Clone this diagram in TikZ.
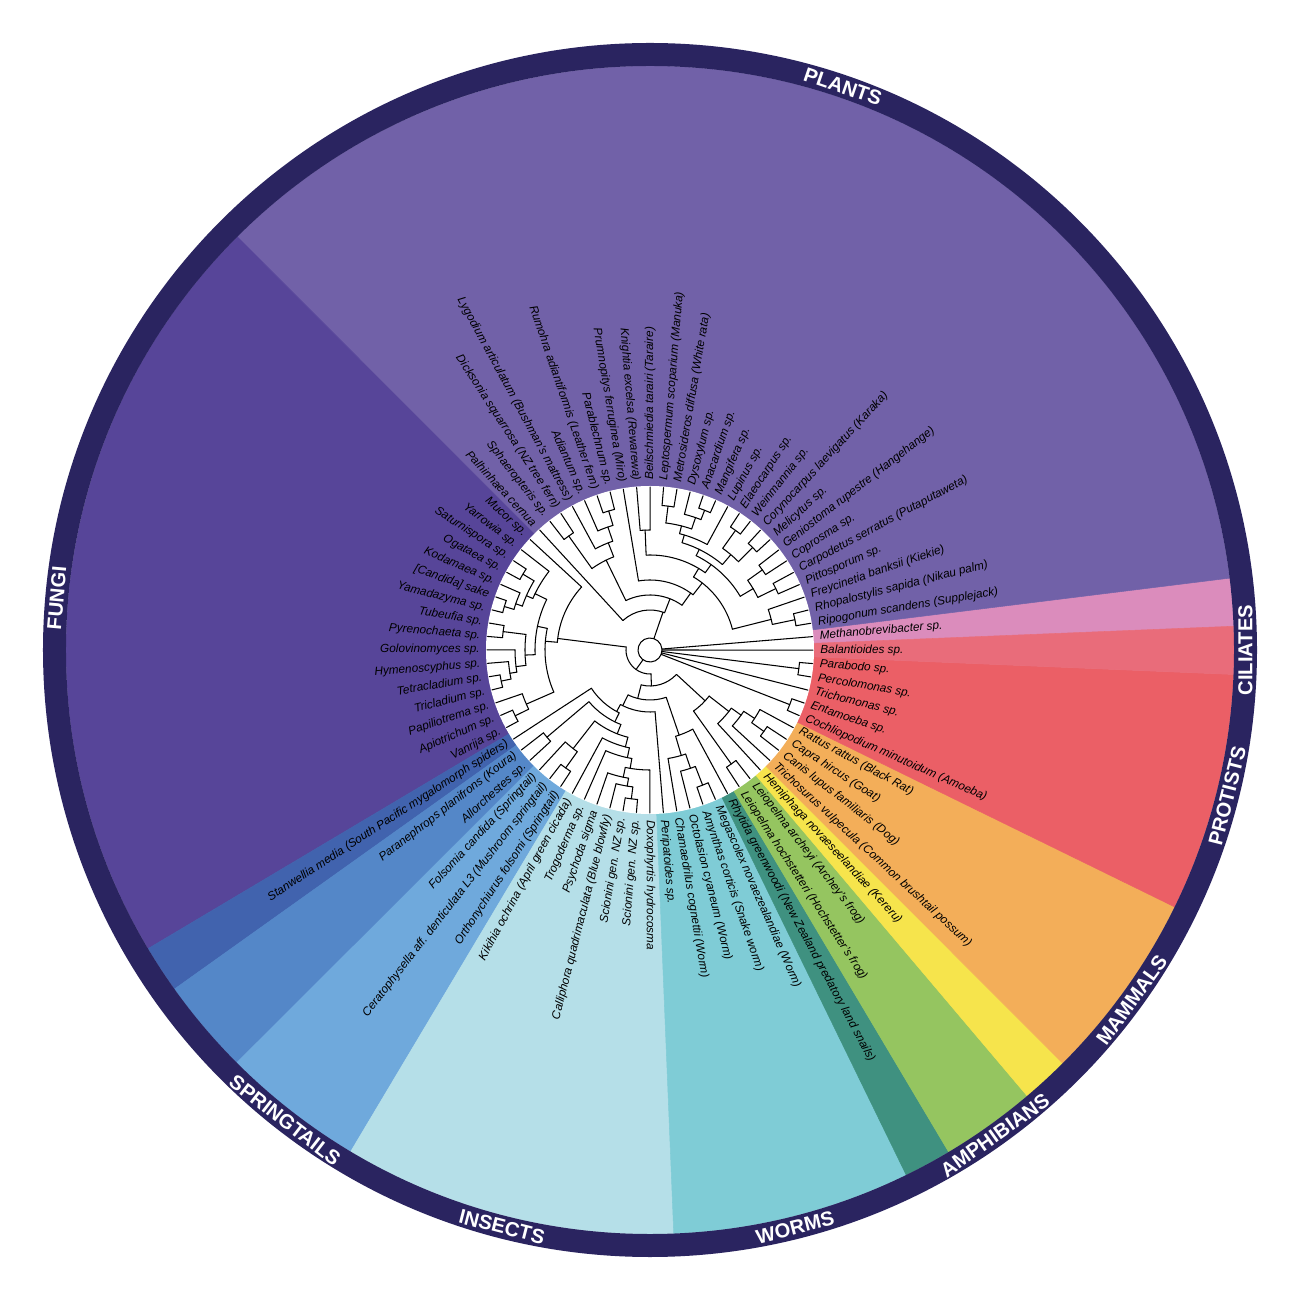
\documentclass[tikz,border=0pt]{standalone}
\usepackage{fontspec}
\setmainfont{Liberation Sans}
\definecolor{ringcol}{HTML}{2A2460}
\definecolor{plantcol}{HTML}{7161A8}
\definecolor{fungicol}{HTML}{574599}
\definecolor{archcol}{HTML}{DB8CBC}
\definecolor{ciliatecol}{HTML}{E96C7A}
\definecolor{protistcol}{HTML}{EB5F66}
\definecolor{mammalcol}{HTML}{F3AE59}
\definecolor{birdcol}{HTML}{F6E44C}
\definecolor{amphcol}{HTML}{95C560}
\definecolor{snailcol}{HTML}{3F9180}
\definecolor{wormcol}{HTML}{7FCCD6}
\definecolor{insectcol}{HTML}{B5DFE8}
\definecolor{springcol}{HTML}{6FA9DC}
\definecolor{crustcol}{HTML}{5487C8}
\definecolor{spidercol}{HTML}{4163AE}
\begin{document}
\begin{tikzpicture}[x=0.02cm, y=0.02cm,
    declare function={la(\i)=4.7+\i*4.736842;},
    branch/.style={line width=0.6pt, line cap=round},
    leaf/.style={inner sep=0pt, text=black, font=\fontsize{6.7}{7}\selectfont\itshape},
    group/.style={inner sep=0pt, text=white, font=\fontsize{11.5}{12}\selectfont\bfseries}]
  \useasboundingbox (-650,-650) rectangle (650,650);
  \fill[white] (-650,-650) rectangle (650,650);
  % wedges: first leaf / last leaf / colour
  \foreach \a/\b/\col in {0/0/archcol, 1/27/plantcol, 28/43/fungicol, 44/44/spidercol,
      45/46/crustcol, 47/49/springcol, 50/56/insectcol, 57/61/wormcol, 62/62/snailcol,
      63/64/amphcol, 65/65/birdcol, 66/69/mammalcol, 70/74/protistcol, 75/75/ciliatecol} {
    \pgfmathsetmacro\ta{la(\a-0.5)}
    \pgfmathsetmacro\tb{la(\b+0.5)}
    \fill[\col, draw=\col, line width=0.3pt] (0,0) -- (\ta:584) arc[start angle=\ta, end angle=\tb, radius=584*0.02cm] -- cycle;
  }
  \draw[ringcol, line width=0.46cm] (0,0) circle[radius=595.5*0.02cm];
  \fill[white] (0,0) circle[radius=164*0.02cm];
  % root
  \pgfmathsetmacro\ta{la(0)}
  \pgfmathsetmacro\tb{la(75)}
  \draw[branch] (\ta:12) arc[start angle=\ta, end angle=\tb, radius=12*0.02cm];
  \foreach \n in {0,72,75} \draw[branch] ({la(\n)}:12) -- ({la(\n)}:163);
  % clades: first / split / last / radius / parent radius
  \foreach \a/\s/\b/\r/\rp in {
      1/26/27/40/12, 1/20/26/55/40, 21/24/26/100/55, 21/23/24/115/100, 21/22/23/130/115,
      21/21/22/145/130, 25/25/26/140/100, 1/19/20/70/55, 1/3/19/85/70, 1/2/3/125/85,
      1/1/2/148/125, 4/17/19/95/85, 18/18/19/120/95, 4/7/17/105/95, 4/5/7/120/105,
      4/4/5/140/120, 6/6/7/138/120, 8/11/17/112/105, 8/9/11/125/112, 8/8/9/145/125,
      10/10/11/147/125, 12/12/17/120/112, 13/15/17/128/120, 13/14/15/140/128,
      13/13/14/150/140, 16/16/17/145/128,
      28/43/69/24/12, 28/28/43/93/24, 29/40/43/105/93, 41/41/43/135/105, 42/42/43/150/135,
      29/34/40/115/105, 29/29/34/128/115, 30/31/34/135/128, 30/30/31/148/135,
      32/32/34/142/135, 33/33/34/152/142, 35/36/40/125/115, 35/35/36/148/125,
      37/37/40/135/125, 38/38/40/142/135, 39/39/40/152/142,
      44/62/69/36/24, 44/57/62/50/36, 44/56/57/62/50, 44/44/56/70/62, 45/46/56/80/70,
      45/45/46/135/80, 47/49/56/90/80, 47/47/49/125/90, 48/48/49/145/125,
      50/50/56/100/90, 51/51/56/110/100, 52/55/56/120/110, 52/52/55/130/120,
      53/53/55/138/130, 54/54/55/150/138, 58/61/62/90/50, 58/58/61/110/90,
      59/59/61/125/110, 60/60/61/145/125, 63/64/69/75/36, 63/63/64/140/75,
      65/65/69/100/75, 66/66/69/112/100, 67/68/69/125/112, 67/67/68/140/125,
      70/70/71/150/12, 73/73/74/150/12} {
    \pgfmathsetmacro\ca{la((\a+\s)/2)}
    \pgfmathsetmacro\cb{la((\s+1+\b)/2)}
    \pgfmathsetmacro\cn{la((\a+\b)/2)}
    \draw[branch] (\ca:\r) arc[start angle=\ca, end angle=\cb, radius=\r*0.02cm];
    \draw[branch] (\cn:\rp) -- (\cn:\r);
    \ifnum\a=\s \draw[branch] (\ca:\r) -- (\ca:163); \fi
    \ifnum\numexpr\s+1\relax=\b \draw[branch] (\cb:\r) -- (\cb:163); \fi
  }
  % leaf labels
  \foreach \i/\name in {
      0/{Methanobrevibacter sp.}, 1/{Ripogonum scandens (Supplejack)},
      2/{Rhopalostylis sapida (Nikau palm)}, 3/{Freycinetia banksii (Kiekie)},
      4/{Pittosporum sp.}, 5/{Carpodetus serratus (Putaputaweta)}, 6/{Coprosma sp.},
      7/{Geniostoma rupestre (Hangehange)}, 8/{Melicytus sp.},
      9/{Corynocarpus laevigatus (Karaka)}, 10/{Weinmannia sp.}, 11/{Elaeocarpus sp.},
      12/{Lupinus sp.}, 13/{Mangifera sp.}, 14/{Anacardium sp.}, 15/{Dysoxylum sp.},
      16/{Metrosideros diffusa (White rata)}, 17/{Leptospermum scoparium (Manuka)},
      18/{Beilschmiedia tarairi (Taraire)}, 19/{Knightia excelsa (Rewarewa)},
      20/{Prumnopitys ferruginea (Miro)}, 21/{Parablechnum sp.},
      22/{Rumohra adiantiformis (Leather fern)}, 23/{Adiantum sp.},
      24/{Lygodium articulatum (Bushman's mattress)}, 25/{Dicksonia squarrosa (NZ tree fern)},
      26/{Sphaeropteris sp.}, 27/{Palhinhaea cernua}, 28/{Mucor sp.}, 29/{Yarrowia sp.},
      30/{Saturnispora sp.}, 31/{Ogataea sp.}, 32/{Kodamaea sp.}, 33/{[Candida] sake},
      34/{Yamadazyma sp.}, 35/{Tubeufia sp.}, 36/{Pyrenochaeta sp.}, 37/{Golovinomyces sp.},
      38/{Hymenoscyphus sp.}, 39/{Tetracladium sp.}, 40/{Tricladium sp.},
      41/{Papiliotrema sp.}, 42/{Apiotrichum sp.}, 43/{Vanrija sp.},
      44/{Stanwellia media (South Pacific mygalomorph spiders)},
      45/{Paranephrops planifrons (Koura)}, 46/{Allorchestes sp.},
      47/{Folsomia candida (Springtail)},
      48/{Ceratophysella aff. denticulata L3 (Mushroom springtail)},
      49/{Orthonychiurus folsomi (Springtail)}, 50/{Kikihia ochrina (April green cicada)},
      51/{Trogoderma sp.}, 52/{Psychoda sigma}, 53/{Calliphora quadrimaculata (Blue blowfly)},
      54/{Scionini gen. NZ sp.}, 55/{Scionini gen. NZ sp.}, 56/{Doxophyrtis hydrocosma},
      57/{Peripatoides sp.}, 58/{Chamaedrilus cognettii (Worm)},
      59/{Octolasion cyaneum (Worm)}, 60/{Amynthas corticis (Snake worm)},
      61/{Megascolex novaezealandiae (Worm)},
      62/{Rhytida greenwoodi (New Zealand predatory land snails)},
      63/{Leiopelma hochstetteri (Hochstetter's frog)}, 64/{Leiopelma archeyi (Archey's frog)},
      65/{Hemiphaga novaeseelandiae (Kereru)},
      66/{Trichosurus vulpecula (Common brushtail possum)},
      67/{Canis lupus familiaris (Dog)}, 68/{Capra hircus (Goat)},
      69/{Rattus rattus (Black Rat)}, 70/{Cochliopodium minutoidum (Amoeba)},
      71/{Entamoeba sp.}, 72/{Trichomonas sp.}, 73/{Percolomonas sp.},
      74/{Parabodo sp.}, 75/{Balantioides sp.}} {
    \pgfmathsetmacro\ang{la(\i)}
    \pgfmathtruncatemacro\lft{(\ang>90 && \ang<269.9) ? 1 : 0}
    \ifnum\lft=1
      \node[leaf, anchor=east, rotate=\ang+180] (l\i) at (\ang:170) {\name};
    \else
      \node[leaf, anchor=west, rotate=\ang] (l\i) at (\ang:170) {\name};
    \fi
  }
  % group names on the ring
  \foreach \nm/\ang/\rot in {PLANTS/71.1/-18.9, CILIATES/0/90, PROTISTS/-14.2/75.8,
      MAMMALS/-36/54, AMPHIBIANS/-54.6/35.4, WORMS/-75.9/14.1, INSECTS/255.6/-14.4,
      SPRINGTAILS/232.2/-37.8, FUNGI/175/85}
    \node[group, rotate=\rot] (g\nm) at (\ang:595.5) {\nm};
\end{tikzpicture}
\end{document}
